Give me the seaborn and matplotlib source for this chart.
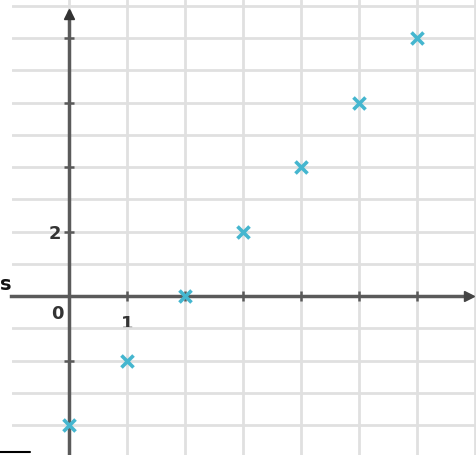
import matplotlib
matplotlib.use("Agg")
import matplotlib.pyplot as plt
import seaborn as sns
import pandas as pd
from matplotlib.ticker import MultipleLocator
from matplotlib.lines import Line2D

sns.set_style("white")
plt.rcParams['font.family'] = ['DejaVu Sans']

x_vals = [0, 1, 2, 3, 4, 5, 6]
y_vals = [-4, -2, 0, 2, 4, 6, 8]
y_tick_pos = [-2, 2, 4, 6, 8]
y_tick_labels = ['', '2', '', '', '']
x_tick_pos = [1, 2, 3, 4, 5, 6]
x_tick_labels = ['1', '', '', '', '', '']

df = pd.DataFrame({'x': x_vals, 'y': y_vals})

fig = plt.figure(figsize=(4.77, 4.55), dpi=100)
ax = fig.add_axes([12/477, 0, 1 - 12/477, 1])

ax.set_xlim(-0.98, 7.03)
ax.set_ylim(-4.93, 9.18)

# grid
ax.xaxis.set_minor_locator(MultipleLocator(1))
ax.yaxis.set_minor_locator(MultipleLocator(1))
ax.grid(which='both', color='#e0e0e0', linewidth=2.0, zorder=0)
ax.set_axisbelow(True)

# spines through origin
for s in ['top', 'right']:
    ax.spines[s].set_visible(False)
ax.spines['left'].set_position(('data', 0))
ax.spines['bottom'].set_position(('data', 0))
ax.spines['left'].set_bounds(-5, 8.8)
ax.spines['bottom'].set_bounds(-1, 6.9)
for s in ['left', 'bottom']:
    ax.spines[s].set_color('#5a5a5a')
    ax.spines[s].set_linewidth(2.5)
    ax.spines[s].set_zorder(2)

ax.set_xticks(x_tick_pos)
ax.set_xticklabels(x_tick_labels)
ax.set_yticks(y_tick_pos)
ax.set_yticklabels(y_tick_labels)
ax.tick_params(which='major', bottom=True, left=True, direction='inout', length=7,
               width=1.8, color='#5a5a5a', labelsize=13, labelcolor='#333333')
ax.tick_params(axis='x', pad=10)
ax.tick_params(axis='y', pad=2)
ax.tick_params(which='minor', length=0)
for lab in ax.get_xticklabels() + ax.get_yticklabels():
    lab.set_fontweight('semibold')

# arrowheads
ax.plot(0, 8.75, marker='^', color='#333333', markersize=7, clip_on=False, zorder=3)
ax.plot(6.9, 0, marker='>', color='#444444', markersize=7, clip_on=False, zorder=3)

ax.text(-0.2, -0.55, '0', ha='center', va='center', fontsize=13, color='#333333',
        fontweight='semibold')

sns.scatterplot(data=df, x='x', y='y', marker='x', s=75, color='#45b6cf',
                linewidth=2.6, ax=ax, zorder=4, legend=False)
ax.set_xlabel('')
ax.set_ylabel('')

fig.text(0.0, 1 - 285/455, 's', ha='left', va='center', fontsize=14, color='#111111',
         fontweight='bold')
fig.add_artist(Line2D([0, 30/477], [1 - 452/455, 1 - 452/455], color='black',
                      linewidth=1.5, transform=fig.transFigure))

fig.savefig('out.png', dpi=100)
